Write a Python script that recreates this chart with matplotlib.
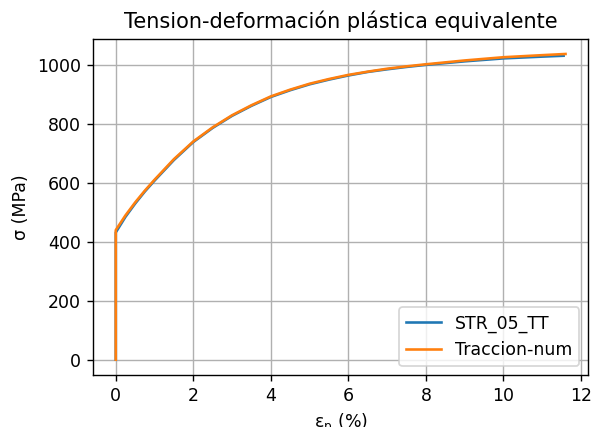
import matplotlib
matplotlib.use("Agg")
import matplotlib.pyplot as plt
import numpy as np

# plastic strain (%) and stress (MPa)
eps_exp = [0.0, 0.0, 0.25, 0.5, 0.75, 1.0, 1.5, 2.0, 2.5, 3.0, 3.5, 4.0, 4.5, 5.0, 5.5, 6.0, 6.5, 7.0, 7.5,
           8.0, 9.0, 10.0, 11.0, 11.55]
sig_exp = [0, 432, 485, 530, 571, 608, 678, 739, 787, 828, 862, 892, 915, 935, 951, 965, 977, 986, 994,
           1001, 1013, 1023, 1029, 1032]

eps_num = [0.0, 0.0, 0.25, 0.5, 0.75, 1.0, 1.5, 2.0, 2.5, 3.0, 3.5, 4.0, 4.5, 5.0, 5.5, 6.0, 6.5, 7.0, 7.5,
           8.0, 9.0, 10.0, 11.0, 11.6]
sig_num = [0, 440, 490, 534, 574, 611, 681, 741, 789, 830, 864, 894, 917, 937, 953, 967, 978, 988, 996,
           1003, 1016, 1027, 1034, 1038]


def main():
    fig = plt.figure(figsize=(593 / 125, 427 / 125), dpi=125)
    fig.subplots_adjust(left=0.1573, right=0.9916, bottom=0.1218, top=0.9094)
    ax = fig.add_subplot(111)

    ax.plot(eps_exp, sig_exp, label='STR_05_TT')
    ax.plot(eps_num, sig_num, label='Traccion-num')

    ax.set_title('Tension-deformación plástica equivalente')
    ax.set_xlabel(r'$\mathrm{\varepsilon_p}$ (%)')
    ax.set_ylabel('σ (MPa)')
    ax.set_xticks(np.arange(0, 13, 2))
    ax.set_yticks(np.arange(0, 1001, 200))
    ax.grid(True)
    ax.legend(loc='lower right')

    fig.savefig('out.png', dpi=125)
    plt.close(fig)


if __name__ == "__main__":
    main()
